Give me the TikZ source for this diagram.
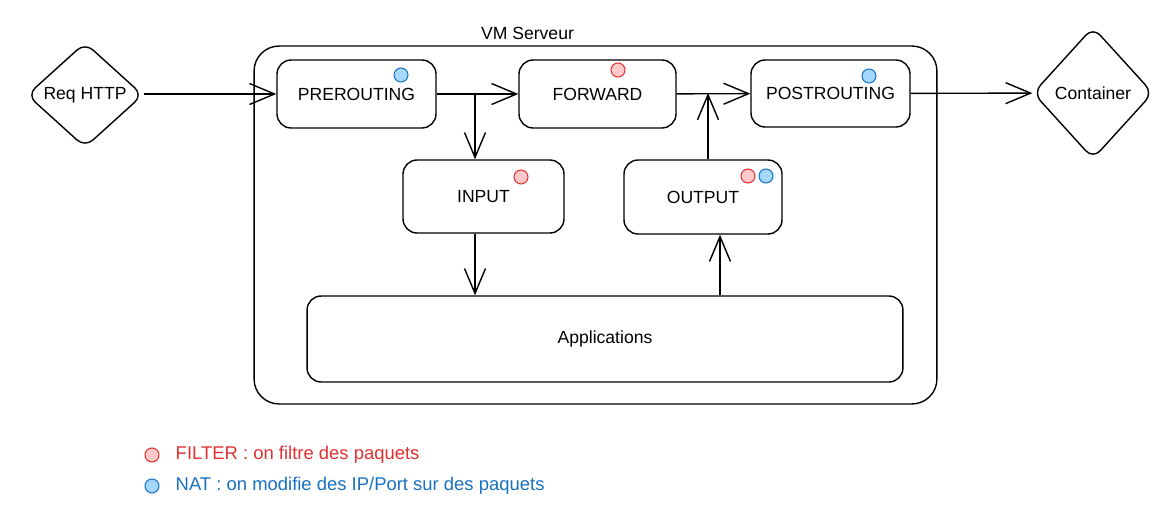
\documentclass[tikz,border=0pt]{standalone}
\usepackage{fontspec}
\setmainfont{Liberation Sans}
\usepackage{tikz}
\usetikzlibrary{arrows.meta,positioning,shapes.geometric,calc}
\definecolor{filtred}{RGB}{224,49,49}
\definecolor{filtfill}{RGB}{255,201,201}
\definecolor{natblue}{RGB}{25,113,194}
\definecolor{natfill}{RGB}{165,216,255}
\tikzset{
  chain/.style={draw,line width=0.8pt,rounded corners=8pt,font=\fontsize{10}{12}\selectfont},
  ends/.style={draw,diamond,line width=0.8pt,rounded corners=6pt,font=\fontsize{10}{12}\selectfont,inner sep=0pt},
  arr/.style={line width=0.8pt,-{Straight Barb[length=0.5cm,width=0.42cm,line width=0.8pt]}},
  filt/.style={circle,draw=filtred,fill=filtfill,line width=0.6pt,minimum size=0.28cm,inner sep=0pt},
  nat/.style={circle,draw=natblue,fill=natfill,line width=0.6pt,minimum size=0.28cm,inner sep=0pt},
}
\begin{document}
\begin{tikzpicture}[x=0.02cm,y=-0.02cm]
        \useasboundingbox (0,0) rectangle (1153,504);
        % VM box
        \node[draw,line width=0.8pt,rounded corners=0.5cm,minimum width=13.66cm,minimum height=7.16cm,
              label={[xshift=-1.36cm,font=\fontsize{10}{12}\selectfont,inner sep=3pt]above:VM Serveur}]
              (vm) at (595.5,225) {};
        % Outside ends
        \node[ends,minimum width=2.32cm,minimum height=2.1cm] (req) at (85,95) {Req HTTP};
        \node[ends,minimum width=2.4cm,minimum height=2.64cm] (cont) at (1093,93) {Container};
        % Chains
        \node[chain,minimum width=3.18cm,minimum height=1.36cm] (pre)  at (356.5,94) {PREROUTING};
        \node[chain,minimum width=3.14cm,minimum height=1.36cm] (fwd)  at (597.5,94) {FORWARD};
        \node[chain,minimum width=3.18cm,minimum height=1.34cm] (post) at (830.5,93.5) {POSTROUTING};
        \node[chain,minimum width=3.22cm,minimum height=1.46cm] (inp)  at (483.5,196.5) {INPUT};
        \node[chain,minimum width=3.16cm,minimum height=1.48cm] (out)  at (703,197) {OUTPUT};
        \node[chain,minimum width=11.92cm,minimum height=1.72cm] (app) at (605,339) {Applications};
        % Tables
        \node[nat]  (prenat)  at (401,75) {};
        \node[filt] (fwdfilt) at (618,70) {};
        \node[nat]  (postnat) at (869,76) {};
        \node[filt] (inpfilt) at (521,177) {};
        \node[filt] (outfilt) at (748,176) {};
        \node[nat]  (outnat)  at (766,176) {};
        % Flow
        \coordinate (split) at (475,93);
        \coordinate (merge) at (708,93);
        \coordinate (back)  at (720,0);
        \draw[arr] (req.east |- pre) -- (pre);
        \draw[arr] (pre) -- (fwd);
        \draw[arr] (fwd) -- (post);
        \draw[arr] (post) -- (cont);
        \draw[arr] (split) -- (split |- inp.north);
        \draw[arr] (out.north -| merge) -- (merge);
        \draw[arr] (inp.south -| split) -- (split |- app.north);
        \draw[arr] (app.north -| back) -- (back |- out.south);
        % Legend
        \node[filt] (keyfilt) at (152,455) {};
        \node[nat]  (keynat)  at (152,486) {};
        \node[right=0.2cm of keyfilt,text=filtred,font=\fontsize{10.5}{12}\selectfont] (filttxt) {FILTER : on filtre des paquets};
        \node[right=0.2cm of keynat,text=natblue,font=\fontsize{10.5}{12}\selectfont] (nattxt) {NAT : on modifie des IP/Port sur des paquets};
      \end{tikzpicture}
\end{document}
